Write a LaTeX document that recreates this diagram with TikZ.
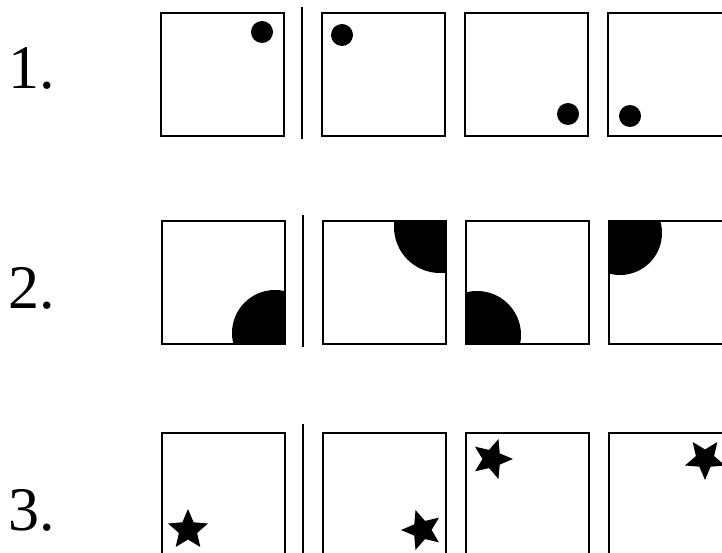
\documentclass[tikz,border=0pt]{standalone}
\usepackage{fontspec}
\setmainfont{Liberation Serif}
\usetikzlibrary{shapes.geometric}
\tikzset{
    panel/.style={draw, line width=2.2pt},
    divider/.style={draw, line width=2.2pt},
    dotmark/.style={fill=black},
    starmark/.style={star, star points=5, star point ratio=2.2,
        fill=black, inner sep=0pt, minimum size=42pt},
    numlabel/.style={anchor=base west, inner sep=0pt,
        font=\fontsize{62}{62}\selectfont}
}

\begin{document}
\begin{tikzpicture}[x=1pt, y=-1pt]
    \useasboundingbox (0,0) rectangle (722,553);
    \fill[white] (0,0) rectangle (722,553);

    % row numbers
    \node[numlabel] (n1) at (8,89) {1.};
    \node[numlabel] (n2) at (8,308) {2.};
    \node[numlabel] (n3) at (8,530) {3.};

    % row 1: dots
    \fill[dotmark] (262,32) circle (11);
    \fill[dotmark] (342,35) circle (11);
    \fill[dotmark] (568,114) circle (11);
    \fill[dotmark] (630,116) circle (11);

    % row 2: discs cut by the panel edges
    \begin{scope}
        \clip (162,221) rectangle (285,344);
        \fill (275,333) circle (43);
    \end{scope}
    \begin{scope}
        \clip (322,221) rectangle (446,344);
        \fill (440,227) circle (46);
    \end{scope}
    \begin{scope}
        \clip (466,221) rectangle (589,344);
        \fill (477,335) circle (44);
    \end{scope}
    \begin{scope}
        \clip (608,221) rectangle (731,344);
        \fill (620,233) circle (42);
    \end{scope}

    % row 3: stars
    \node[starmark] (s1) at (188,530) {};
    \node[starmark, rotate=90] (s2) at (422,530) {};
    \node[starmark, rotate=-90] (s3) at (492,459) {};
    \node[starmark, rotate=180] (s4) at (705,459) {};

    % panels
    \foreach \bx in {161,322,465,608} {
        \draw[panel] (\bx,13) rectangle ++(123,123);
        \draw[panel] (\bx+1,221) rectangle ++(123,123);
        \draw[panel] (\bx+1,433) rectangle ++(123,123);
    }

    % dividers
    \draw[divider] (302,7) -- (302,139);
    \draw[divider] (303,215) -- (303,347);
    \draw[divider] (303,424) -- (303,560);
\end{tikzpicture}
\end{document}
